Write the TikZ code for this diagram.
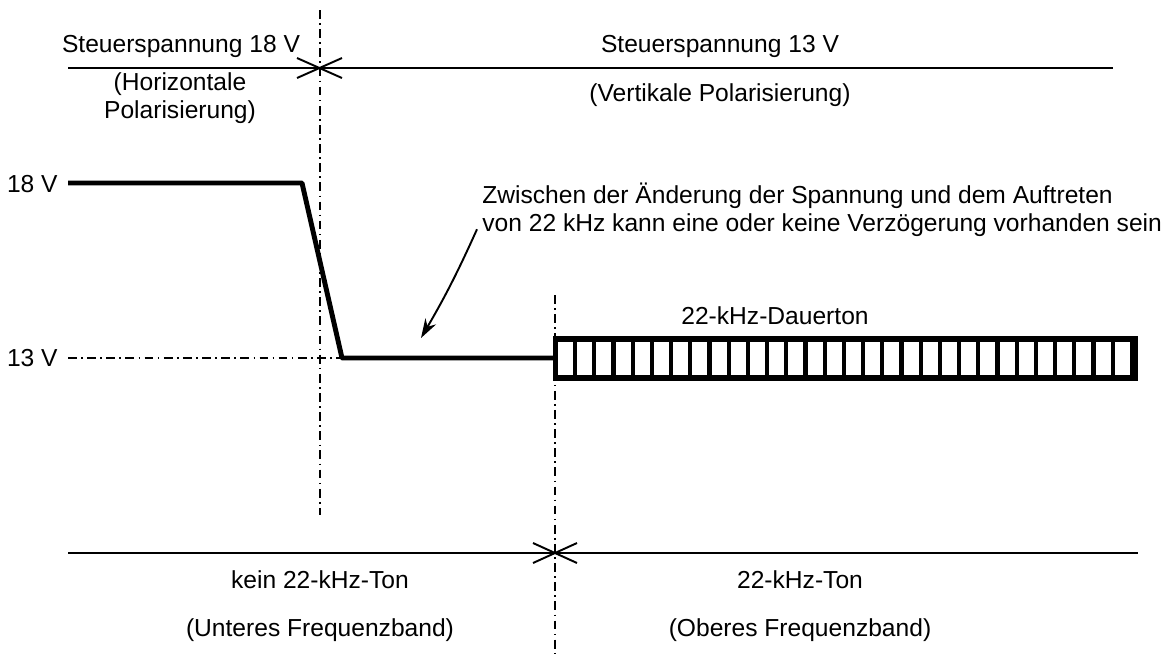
\documentclass[tikz,border=0pt]{standalone}
\usepackage{fontspec}
\setmainfont{Liberation Sans}
\usetikzlibrary{arrows.meta}
\begin{document}
\begin{tikzpicture}[x=0.02cm,y=-0.02cm,line join=round,font=\fontsize{14}{16}\selectfont,
  thin line/.style={line width=1.1pt},
  dashdot line/.style={line width=1.1pt,dash pattern=on 5pt off 2.5pt on 0.9pt off 2.5pt},
  signal/.style={line width=2.8pt},
  lbl/.style={inner sep=0pt}]
\useasboundingbox (0,0) rectangle (1175,660);
% Zeitmarken
\draw[dashdot line] (320,10)--(320,515);
\draw[dashdot line] (555,295)--(555,655);
% Steuerspannung
\draw[thin line] (68,68)--(1113,68);
\draw[thin line] (297,58)--(342,78) (297,78)--(342,58);
\node[lbl] (s18) at (181,46) {Steuerspannung 18 V};
\node[lbl] (s13) at (720,46) {Steuerspannung 13 V};
\node[lbl,align=center] (hor) at (180,98) {(Horizontale\\Polarisierung)};
\node[lbl] (ver) at (720,95) {(Vertikale Polarisierung)};
% Spannungsverlauf
\node[lbl,anchor=east] (v18) at (58,184) {18 V};
\node[lbl,anchor=east] (v13) at (58,358) {13 V};
\coordinate (a) at (68,183);
\coordinate (b) at (302,183);
\coordinate (c) at (342,358);
\coordinate (d) at (555,358);
\draw[dashdot line] (68,358)--(c);
\draw[signal] (a)--(b)--(c)--(d);
% 22-kHz-Dauerton
\fill (553,336) rectangle (1138,381);
\foreach \i in {0,...,29}
  \fill[white] (558+\i*19.2,342) rectangle ++(15,33);
\node[lbl] (dauer) at (775,316) {22-kHz-Dauerton};
% Hinweis
\node[lbl,anchor=west,align=left] (note) at (482,210)
  {Zwischen der Änderung der Spannung und dem Auftreten\\von 22 kHz kann eine oder keine Verzögerung vorhanden sein};
\coordinate (tip) at (421,338);
\draw[thin line,-{Stealth[length=11pt,width=7pt]}] ([shift={(-5,-8)}]note.south west) to[bend left=3] (tip);
% 22-kHz-Ton
\draw[thin line] (68,553)--(1138,553);
\draw[thin line] (533,543)--(577,563) (533,563)--(577,543);
\node[lbl] (kein) at (320,580) {kein 22-kHz-Ton};
\node[lbl] (ton) at (800,580) {22-kHz-Ton};
\node[lbl] (unt) at (320,630) {(Unteres Frequenzband)};
\node[lbl] (obe) at (800,630) {(Oberes Frequenzband)};
\end{tikzpicture}
\end{document}
